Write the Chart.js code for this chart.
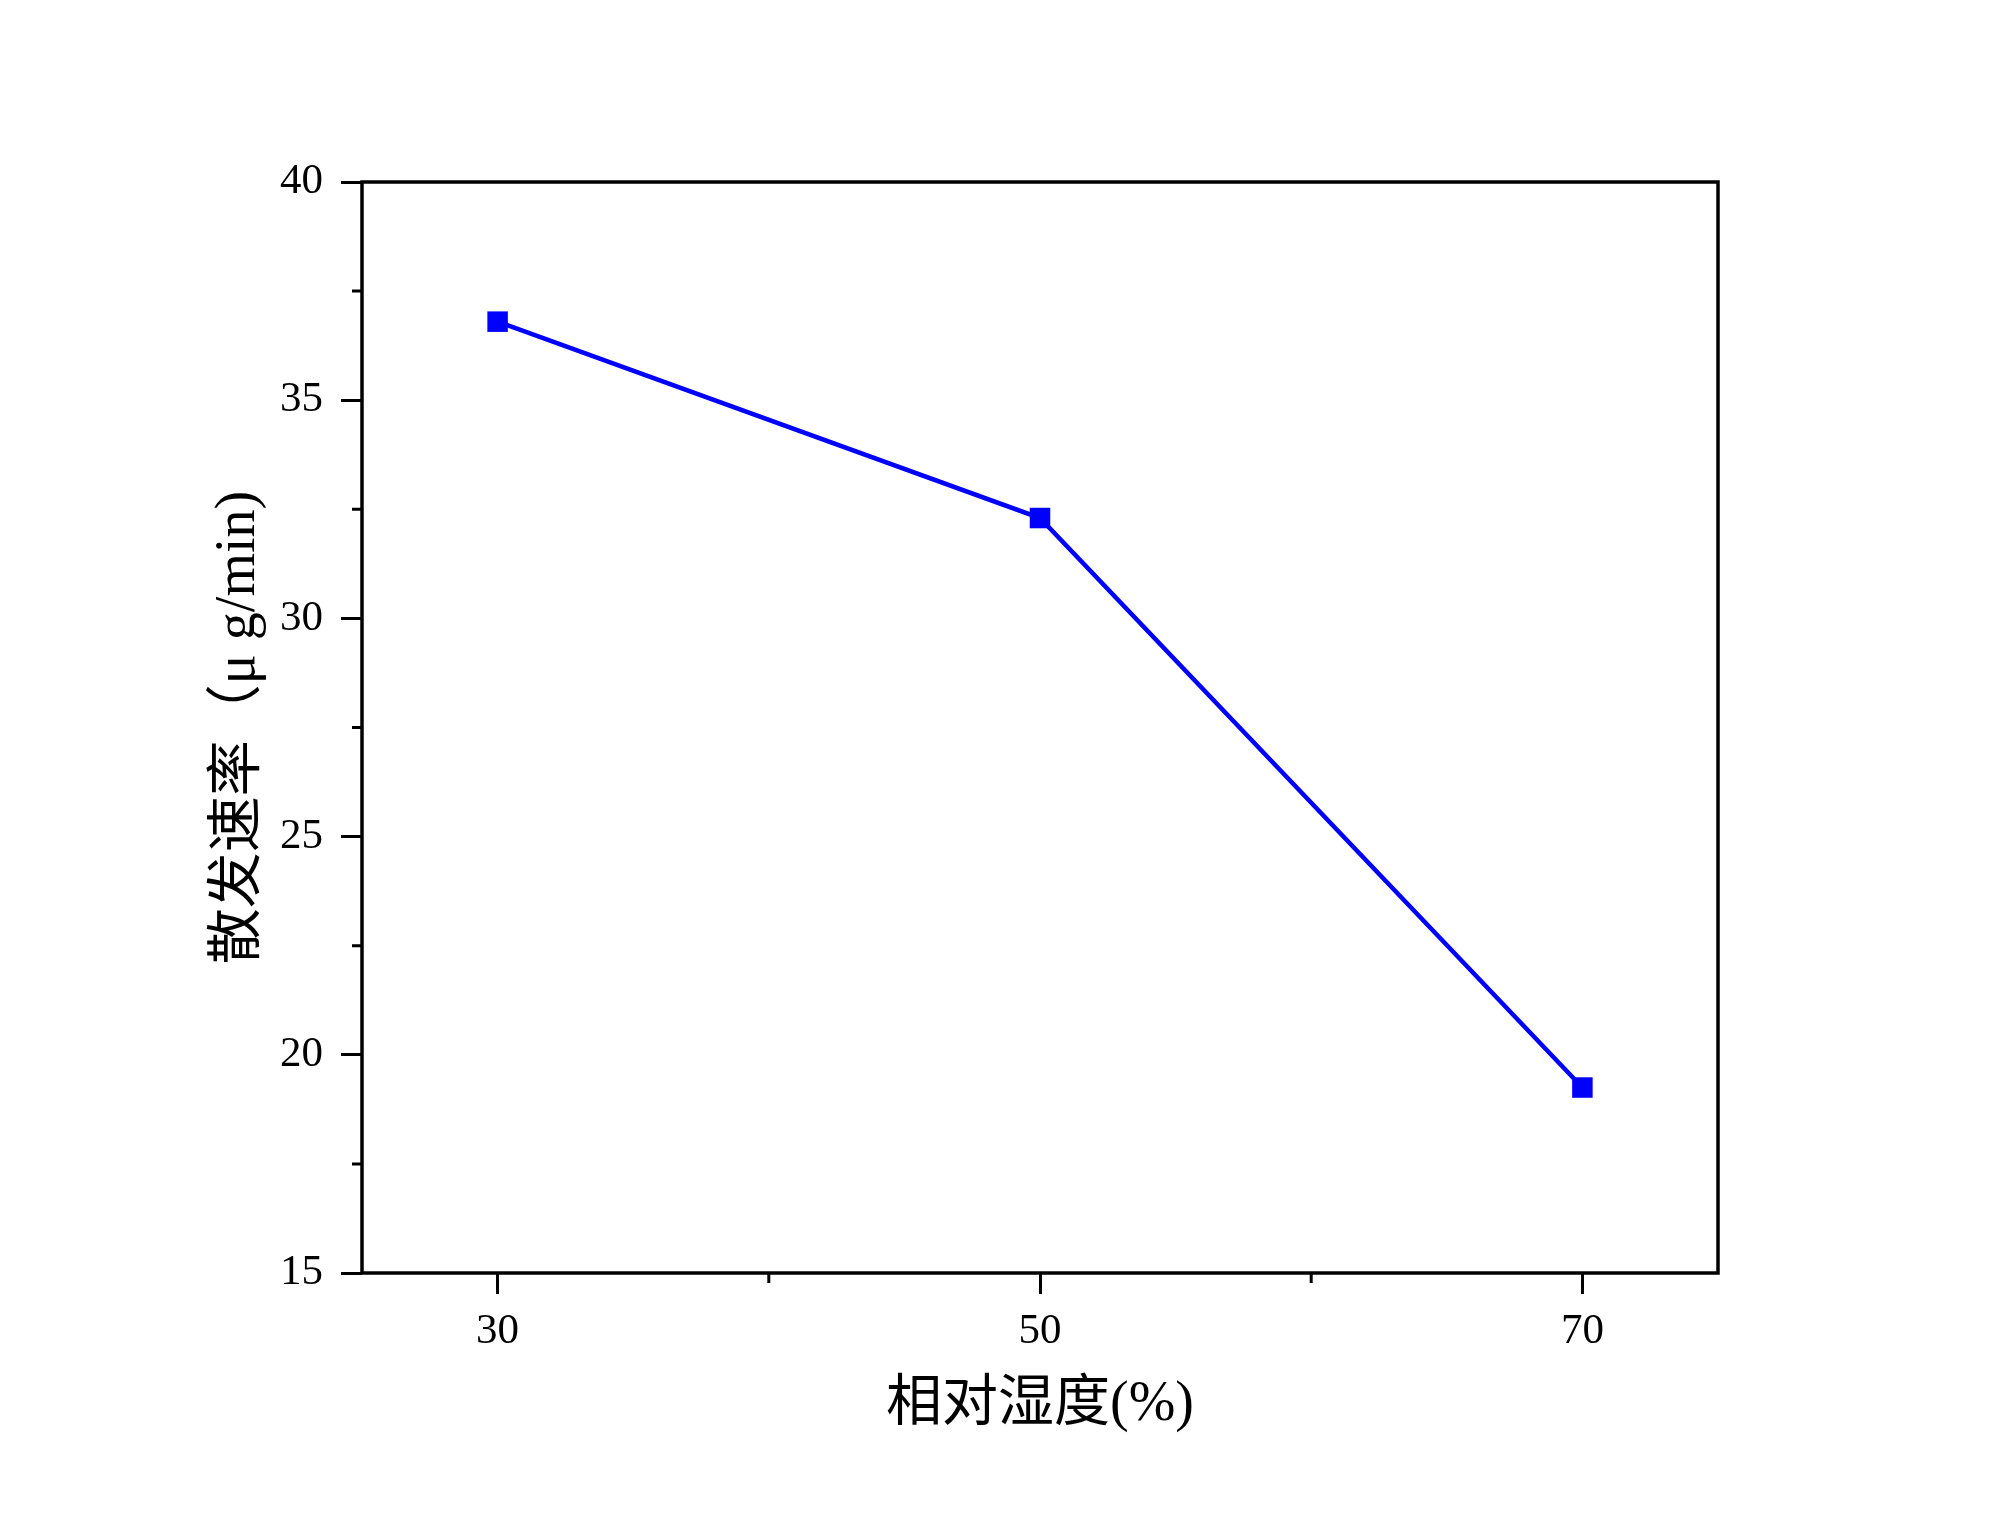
<!DOCTYPE html>
<html>
<head>
<meta charset="utf-8">
<script src="https://cdn.jsdelivr.net/npm/chart.js@4"></script>
<style>
  html, body { margin: 0; padding: 0; background: #fff; }
  #wrap { width: 2000px; height: 1531px; }
</style>
</head>
<body>
<div id="wrap"><canvas id="chart" width="2000" height="1531"></canvas></div>
<script>
// ─── DATA ───────────────────────────────────────────────
const humidity = [30, 50, 70];             // 相对湿度 (%)
const emissionRate = [36.8, 32.3, 19.25];  // 散发速率 (μg/min)
const xMajorTicks = [30, 50, 70];
const xMinorTicks = [40, 60];
const yMinorTicks = [17.5, 22.5, 27.5, 32.5, 37.5];

const numFont = "'Liberation Serif', 'DejaVu Serif', serif";
const titleFont = "'Liberation Serif', 'Noto Sans CJK SC', serif";

// frame + minor ticks, positions from the chart's own scales
const framePlugin = {
    id: 'frame',
    afterDraw(chart) {
        const { ctx, chartArea: a, scales } = chart;
        ctx.save();
        ctx.strokeStyle = '#000';
        ctx.lineWidth = 3.5;
        ctx.strokeRect(a.left, a.top, a.right - a.left, a.bottom - a.top);
        ctx.lineWidth = 3;
        ctx.beginPath();
        yMinorTicks.forEach(v => {
            const y = scales.y.getPixelForValue(v);
            ctx.moveTo(a.left, y); ctx.lineTo(a.left - 10, y);
        });
        xMinorTicks.forEach(v => {
            const x = scales.x.getPixelForValue(v);
            ctx.moveTo(x, a.bottom); ctx.lineTo(x, a.bottom + 10);
        });
        ctx.stroke();
        ctx.restore();
    }
};

new Chart(document.getElementById('chart'), {
    type: 'line',
    data: {
        datasets: [{
            data: humidity.map((x, i) => ({ x, y: emissionRate[i] })),
            borderColor: '#0000ff',
            backgroundColor: '#0000ff',
            borderWidth: 4.5,
            pointStyle: 'rect',
            pointRadius: 14.5,
            pointHoverRadius: 14.5,
            pointBorderWidth: 0,
            tension: 0
        }]
    },
    options: {
        responsive: false,
        animation: false,
        events: [],
        layout: { padding: { top: 182, right: 282, left: 0, bottom: 0 } },
        plugins: { legend: { display: false }, tooltip: { enabled: false } },
        scales: {
            x: {
                type: 'linear',
                min: 25, max: 75,
                afterBuildTicks: s => { s.ticks = xMajorTicks.map(v => ({ value: v })); },
                afterFit: s => { s.height = 258; },
                border: { display: false },
                grid: { drawOnChartArea: false, drawTicks: true, tickLength: 21, tickWidth: 3, tickColor: '#000' },
                ticks: { color: '#000', padding: 12, maxRotation: 0, font: { family: numFont, size: 43 } },
                title: {
                    display: true, text: '相对湿度(%)', color: '#000',
                    padding: { top: 0, bottom: 92 },
                    font: { family: titleFont, size: 56 }
                }
            },
            y: {
                min: 15, max: 40,
                ticks: { stepSize: 5, color: '#000', padding: 18, font: { family: numFont, size: 43 } },
                afterFit: s => { s.width = 362; },
                border: { display: false },
                grid: { drawOnChartArea: false, drawTicks: true, tickLength: 21, tickWidth: 3, tickColor: '#000' },
                title: {
                    display: true, text: '散发速率（μ g/min)', color: '#000',
                    padding: { top: 206, bottom: 0 },
                    font: { family: titleFont, size: 56 }
                }
            }
        }
    },
    plugins: [framePlugin]
});
</script>
</body>
</html>
